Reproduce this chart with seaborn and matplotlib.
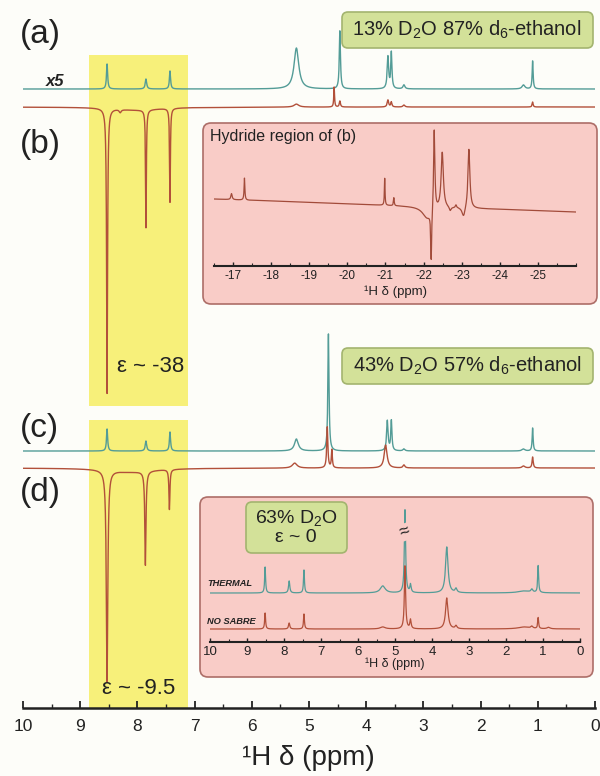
import numpy as np
import pandas as pd
import matplotlib
matplotlib.use('Agg')
import matplotlib.pyplot as plt
import matplotlib.transforms as mtransforms
from matplotlib.patches import FancyBboxPatch, Rectangle
from matplotlib.ticker import MultipleLocator
import seaborn as sns

sns.set_style('white')
plt.rcParams['font.family'] = ['Liberation Sans', 'DejaVu Sans']
plt.rcParams['mathtext.fontset'] = 'custom'
plt.rcParams['mathtext.rm'] = 'Liberation Sans'
plt.rcParams['mathtext.it'] = 'Liberation Sans:italic'
plt.rcParams['axes.unicode_minus'] = False

W, H = 600, 776
BG = '#fdfdf9'
TEAL = '#539c97'
RED = '#b2503a'
HYD = '#a24b3a'
YELLOW = '#f7f07a'
PINK = '#f9ccc7'
PINK_EDGE = '#ad6e68'
GREEN = '#d3e199'
GREEN_EDGE = '#a3b46f'
INK = '#222222'

# =============================================================================
# peak tables: shift (ppm), height (px, <0 = emission), half width (ppm)
# =============================================================================
# (a) thermal x5, 13% D2O
a_pos = [8.53, 7.85, 7.43, 5.22, 4.46, 3.62, 3.56, 3.34, 1.25, 1.09]
a_hgt = [25, 10, 18, 41, 58, 32, 36, 4, 4, 28]
a_wid = [0.012, 0.015, 0.012, 0.05, 0.012, 0.015, 0.012, 0.02, 0.03, 0.01]
# (b) SABRE, 13% D2O
b_pos = [8.53, 8.30, 7.85, 7.43, 8.0, 5.22, 4.56, 4.46, 3.62, 3.56, 3.34, 1.09]
b_hgt = [-285, -3, -118, -94, -3, 3, 20, 6, 7, 5, 2, 5]
b_wid = [0.01, 0.02, 0.008, 0.008, 0.5, 0.05, 0.008, 0.012, 0.015, 0.012, 0.02, 0.01]
# (c) thermal, 43% D2O
c_pos = [8.53, 7.85, 7.43, 5.22, 4.66, 3.63, 3.56, 3.34, 1.25, 1.09]
c_hgt = [22, 10, 19, 12, 117, 30, 30, 2, 2, 23]
c_wid = [0.012, 0.015, 0.012, 0.04, 0.012, 0.015, 0.012, 0.02, 0.03, 0.01]
# (d) SABRE, 43% D2O
d_pos = [8.53, 7.86, 7.44, 8.1, 5.25, 4.68, 4.60, 3.66, 3.34, 1.25, 1.09]
d_hgt = [-212, -94, -40, -4, 5, 41, 18, 23, 3, 2, 11]
d_wid = [0.015, 0.012, 0.01, 0.5, 0.05, 0.012, 0.01, 0.03, 0.02, 0.03, 0.012]
# hydride region of (b)
hyd_pos = [-16.96, -17.30, -20.98, -21.22, -22.20, -22.10, -22.28, -22.49, -22.70, -22.85, -23.05, -23.19]
hyd_hgt = [6, 22, 27, 8, -50, -12, 82, 56, -4, 3, -10, 60]
hyd_wid = [0.02, 0.012, 0.01, 0.012, 0.015, 0.15, 0.02, 0.035, 0.03, 0.02, 0.05, 0.03]
hyd_base = [199, 212]          # baseline row at -16.5 and -26 ppm
hyd_ticks = [-17, -18, -19, -20, -21, -22, -23, -24, -25]
# 63% D2O inset
therm_pos = [8.51, 7.86, 7.46, 5.33, 4.73, 4.58, 3.60, 3.35, 1.50, 1.30, 1.13]
therm_hgt = [26, 12, 23, 7, 83, 8, 46, 4, 2, 3, 27]
therm_wid = [0.015, 0.02, 0.015, 0.08, 0.02, 0.02, 0.04, 0.03, 0.2, 0.03, 0.015]
nosab_pos = [8.51, 7.86, 7.46, 5.33, 4.73, 4.58, 3.60, 3.35, 1.50, 1.30, 1.13, 0.85]
nosab_hgt = [16, 6, 15, 2, 63, 9, 31, 3, 2, 2, 11, 1.5]
nosab_wid = [0.015, 0.02, 0.015, 0.08, 0.02, 0.02, 0.04, 0.03, 0.2, 0.03, 0.015, 0.05]
main_ticks = [10, 9, 8, 7, 6, 5, 4, 3, 2, 1, 0]

# layout, in pixel rows from the top of the figure
AX_ROW = 708
BASE_A, BASE_B, BASE_C, BASE_D = 89, 107, 451, 468
BASE_TH, BASE_NS = 593, 629


def lorentz(x, pos, hgt, wid):
    y = np.zeros_like(x)
    for p, h, w in zip(pos, hgt, wid):
        y += h * w**2 / (w**2 + (x - p)**2)
    return y


def trace(ax, x0, x1, base, pos, hgt, wid, color, lw=1.0, n=6000):
    x = np.sort(np.concatenate([np.linspace(x0, x1, n), pos]))
    if np.ndim(base) == 0:
        b = base
    else:
        b = base[0] + (base[1] - base[0]) * (x - x0) / (x1 - x0)
    df = pd.DataFrame({'ppm': x, 'row': b - lorentz(x, pos, hgt, wid)})
    sns.lineplot(data=df, x='ppm', y='row', ax=ax, color=color, lw=lw,
                 estimator=None, sort=False)


fig = plt.figure(figsize=(6, 7.76), dpi=100, facecolor=BG)
# pixel coordinates, origin top-left
T = mtransforms.Affine2D().scale(1 / 100, -1 / 100).translate(0, H / 100) + fig.dpi_scale_trans


def rbox(x0, y0, x1, y1, fc, ec, z, r=6):
    p = FancyBboxPatch((x0, y0), x1 - x0, y1 - y0, boxstyle=f'round,pad=0,rounding_size={r}',
                       transform=T, fc=fc, ec=ec, lw=1.2, zorder=z)
    fig.add_artist(p)


def txt(x, y, s, **kw):
    kw.setdefault('va', 'center')
    kw.setdefault('zorder', 6)
    fig.text(x, y, s, transform=T, **kw)


def style_axis(a, ticks, size, pad):
    a.set_xticks(ticks)
    a.set_xticklabels([str(t) for t in ticks])
    a.xaxis.set_minor_locator(MultipleLocator(0.5))
    a.tick_params(axis='x', which='major', direction='in', length=3, width=1,
                  labelsize=size, pad=pad, colors=INK, bottom=True)
    a.tick_params(axis='x', which='minor', direction='in', length=2, width=0.8, bottom=True)
    a.set_yticks([])
    a.set_xlabel('')
    a.set_ylabel('')
    for s in ['left', 'right', 'top']:
        a.spines[s].set_visible(False)
    a.spines['bottom'].set_linewidth(1.5)
    a.spines['bottom'].set_color(INK)


# ---- main panel
ax = fig.add_axes([23 / W, 1 - AX_ROW / H, 572 / W, AX_ROW / H])
ax.set_facecolor('none')
ax.add_patch(Rectangle((7.12, 55), 8.85 - 7.12, 406 - 55, fc=YELLOW, ec='none', zorder=0))
ax.add_patch(Rectangle((7.12, 420), 8.85 - 7.12, AX_ROW - 420, fc=YELLOW, ec='none', zorder=0))
trace(ax, 10, 0, BASE_A, a_pos, a_hgt, a_wid, TEAL)
trace(ax, 10, 0, BASE_B, b_pos, b_hgt, b_wid, RED)
trace(ax, 10, 0, BASE_C, c_pos, c_hgt, c_wid, TEAL)
trace(ax, 10, 0, BASE_D, d_pos, d_hgt, d_wid, RED)
ax.set_xlim(10, 0)
ax.set_ylim(AX_ROW, 0)
style_axis(ax, main_ticks, 12.5, 8)
ax.tick_params(axis='x', which='major', length=5, width=1.3)
ax.tick_params(axis='x', which='minor', length=3, width=1.0)
ax.spines['bottom'].set_linewidth(1.8)
txt(308, 758, '¹H δ (ppm)', fontsize=20, ha='center', color=INK)

# panel labels and notes
for lab, row in [('(a)', 34), ('(b)', 144), ('(c)', 428), ('(d)', 492)]:
    txt(20, row, lab, fontsize=24, color=INK)
txt(46, 82, 'x5', fontsize=12, fontweight='bold', fontstyle='italic', color=INK)
txt(117, 367, 'ε ~ -38', fontsize=16, color=INK)
txt(102, 688, 'ε ~ -9.5', fontsize=16, color=INK)

rbox(342, 12, 593, 48, GREEN, GREEN_EDGE, 4)
txt(467, 30, '13% D$_2$O 87% d$_6$-ethanol', fontsize=14.5, ha='center', color=INK)
rbox(342, 348, 593, 384, GREEN, GREEN_EDGE, 4)
txt(467, 366, '43% D$_2$O 57% d$_6$-ethanol', fontsize=14.5, ha='center', color=INK)

# ---- hydride inset
rbox(203, 123, 597, 304, PINK, PINK_EDGE, 2, r=8)
txt(210, 137, 'Hydride region of (b)', fontsize=11.5, color=INK)
axh = fig.add_axes([214 / W, 1 - 266 / H, 362 / W, 143 / H], zorder=3)
axh.set_facecolor('none')
trace(axh, -16.5, -26, hyd_base, hyd_pos, hyd_hgt, hyd_wid, HYD, lw=0.9)
axh.set_xlim(-16.5, -26)
axh.set_ylim(266, 123)
style_axis(axh, hyd_ticks, 8.5, 3)
txt(395, 292, '¹H δ (ppm)', fontsize=9.5, ha='center', color=INK)

# ---- 63% D2O inset
rbox(200, 497, 593, 677, PINK, PINK_EDGE, 2, r=8)
axt = fig.add_axes([210 / W, 1 - 642 / H, 370 / W, 145 / H], zorder=3)
axt.set_facecolor('none')
trace(axt, 10, 0, BASE_TH, therm_pos, therm_hgt, therm_wid, TEAL, lw=0.9)
trace(axt, 10, 0, BASE_NS, nosab_pos, nosab_hgt, nosab_wid, RED, lw=0.9)
axt.set_xlim(10, 0)
axt.set_ylim(642, 497)
style_axis(axt, main_ticks, 9.5, 3)
txt(395, 664, '¹H δ (ppm)', fontsize=9, ha='center', color=INK)
txt(207, 583, 'THERMAL', fontsize=6.7, fontweight='bold', fontstyle='italic', color=INK)
txt(207, 621, 'NO SABRE', fontsize=6.7, fontweight='bold', fontstyle='italic', color=INK)
txt(405, 532, '≈', fontsize=13, ha='center', rotation=20, color=INK,
    bbox=dict(fc=PINK, ec='none', pad=0))
rbox(246, 502, 347, 553, GREEN, GREEN_EDGE, 4)
txt(296, 527, '63% D$_2$O\nε ~ 0', fontsize=14, ha='center', color=INK,
    multialignment='center', linespacing=1.05)

fig.savefig('out.png', dpi=100, facecolor=BG)
